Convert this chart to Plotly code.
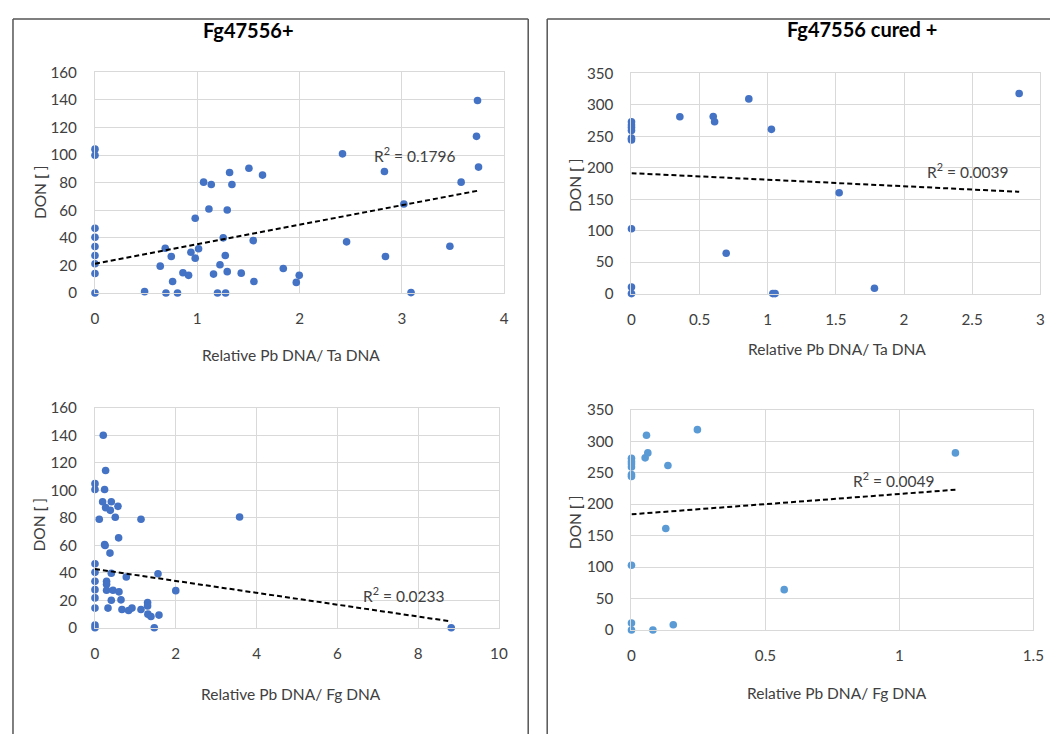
import numpy as np
import plotly.graph_objects as go

# ---------------- data ----------------
# Panel 1: Fg47556+  vs  Relative Pb DNA / Ta DNA
p1_x = [0, 0, 0, 0, 0, 0, 0, 0, 0,
        0.485, 0.687, 0.746, 0.638, 0.759, 0.694, 0.807, 0.860, 0.915, 0.938,
        0.980, 1.013, 0.980, 1.062, 1.137, 1.114, 1.159, 1.222, 1.198, 1.277,
        1.254, 1.274, 1.293, 1.293, 1.316, 1.339, 1.430, 1.505, 1.547, 1.554,
        1.638, 1.841, 1.997, 1.968,
        2.42, 2.46, 2.83, 2.84, 3.02, 3.09, 3.47, 3.58, 3.74, 3.73, 3.75]
p1_y = [104.3, 99.9, 46.9, 40.4, 33.7, 27.2, 21.2, 14.2, 0,
        1.0, 32.5, 26.5, 19.5, 8.4, 0, 0, 14.7, 12.8, 29.6,
        25.3, 32.1, 54.2, 80.4, 78.7, 60.9, 13.7, 20.5, 0, 0,
        40.0, 27.2, 15.5, 60.2, 87.4, 78.7, 14.4, 90.5, 38.0, 8.4,
        85.5, 17.8, 12.8, 7.7,
        100.9, 37.1, 88.1, 26.5, 64.5, 0.3, 33.9, 80.4, 139.6, 113.6, 91.3]

# Panel 2: Fg47556 cured +  vs  Relative Pb DNA / Ta DNA
p2_x = [0, 0, 0, 0, 0, 0, 0, 0, 0,
        0.355, 0.60, 0.61, 0.861, 1.027, 0.695, 1.037, 1.054, 1.524, 1.783, 2.845]
p2_y = [273, 268, 264, 259, 247, 244, 103, 10.5, 0,
        281, 281.5, 273, 309.4, 261, 64.2, 0, 0, 160.2, 8.4, 318]

# Panel 3: Fg47556+  vs  Relative Pb DNA / Fg DNA
p3_x = [0.205, 0.263, 0, 0, 0.238, 0.189, 0.404, 0.263, 0.379, 0.569,
        0.106, 0.502, 1.139, 3.58, 0.585, 0.238, 0.25, 0.371, 0, 0,
        0.404, 1.56, 0.775, 0, 0.287, 0.287, 0, 0.287, 0.445, 0.594,
        2.0, 0, 0.404, 0.644, 0, 0.322, 0.668, 0.832, 0.916, 1.139,
        1.302, 1.302, 1.31, 1.386, 1.584, 1.468, 0, 0, 8.82]
p3_y = [140, 114.4, 104.8, 100.6, 100.6, 91.7, 91.7, 87.4, 85.4, 88.3,
        78.9, 80.4, 78.9, 80.6, 65.4, 60.6, 59.8, 54.3, 46.6, 40.3,
        39.6, 39.3, 36.9, 33.8, 33.8, 31.6, 27.7, 27.3, 27.3, 26.1,
        27, 21.7, 20, 20.3, 14.3, 14.3, 13.3, 12.5, 14.3, 13.3,
        18.3, 15.9, 9.9, 8.2, 9.2, 0, 2, 0, 0]

# Panel 4: Fg47556 cured +  vs  Relative Pb DNA / Fg DNA
p4_x = [0, 0, 0, 0, 0, 0, 0, 0, 0,
        0.056, 0.246, 0.061, 0.051, 0.136, 0.128, 0.570, 0.080, 0.156, 1.209]
p4_y = [273, 268, 264, 259, 247, 244, 103, 11, 0,
        309.4, 318.4, 281.5, 273.6, 261.4, 161.3, 64.2, 0, 8.4, 281.5]

# Linear trendlines as shown in the reference (intercept, slope), per panel
trend_intercepts = [21.2, 191.4, 42.7, 183.9]
trend_slopes = [14.15, -10.4, -4.32, 32.3]
r2_labels = ["0.1796", "0.0039", "0.0233", "0.0049"]

panel_titles = ["Fg47556+", "Fg47556 cured +"]
x_titles = ["Relative Pb DNA/ Ta DNA", "Relative Pb DNA/ Ta DNA",
            "Relative Pb DNA/ Fg DNA", "Relative Pb DNA/ Fg DNA"]
y_title = "DON <b>[</b> ]"

# ---------------- layout helpers ----------------
W, H = 1057, 733
# mapping from target picture pixels to figure pixels (page offset + capture scale)
OX, SX, OY, SY = 11.7, 0.986, 15.4, 0.98


def fx(x):  # target pixel -> paper fraction
    return (x - OX) / SX / W


def fy(y):
    return 1 - (y - OY) / SY / H


FONT = "Lato"
TICK_COL = "#404040"
GRID = "#D9D9D9"
FS = 15.2

# target-pixel boxes of the plot areas: (left, right, top, bottom)
areas = [(94.7, 503.9, 70.0, 291.7),
         (631.3, 1040.2, 71.0, 292.3),
         (94.7, 498.7, 407.0, 628.0),
         (631.3, 1033.3, 409.0, 630.3)]
xranges = [[0, 4], [0, 3], [0, 10], [0, 1.5]]
yranges = [[0, 160], [0, 350], [0, 160], [0, 350]]
xdt = [1, 0.5, 2, 0.5]
ydt = [20, 50, 20, 50]
colors = ["#4472C4", "#4472C4", "#4472C4", "#5B9BD5"]
datasets = [(p1_x, p1_y), (p2_x, p2_y), (p3_x, p3_y), (p4_x, p4_y)]
r2_pos = [(3.13, 100.5), (2.467, 196), (7.65, 23.9), (0.98, 238.8)]

fig = go.Figure()
layout = dict(width=W, height=H, autosize=False,
              margin=dict(l=0, r=0, t=0, b=0, pad=0),
              paper_bgcolor="white", plot_bgcolor="white",
              showlegend=False, font=dict(family=FONT, color=TICK_COL))
annotations = []
shapes = []

for i, ((xs, ys), area) in enumerate(zip(datasets, areas)):
    n = "" if i == 0 else str(i + 1)
    xa, ya = "x" + n, "y" + n
    l, r, t, b = area
    layout["xaxis" + n] = dict(domain=[fx(l), fx(r)], range=xranges[i], dtick=xdt[i],
                               tick0=0, anchor=ya, showgrid=True, gridcolor=GRID, gridwidth=1,
                               zeroline=False, showline=True, linecolor=GRID, mirror=True,
                               ticks="", ticklabelstandoff=12,
                               tickfont=dict(family=FONT, size=FS, color=TICK_COL),
                               fixedrange=True)
    layout["yaxis" + n] = dict(domain=[fy(b), fy(t)], range=yranges[i], dtick=ydt[i],
                               tick0=0, anchor=xa, showgrid=True, gridcolor=GRID, gridwidth=1,
                               zeroline=False, showline=True, linecolor=GRID, mirror=True,
                               ticks="", ticklabelstandoff=14,
                               tickfont=dict(family=FONT, size=FS, color=TICK_COL),
                               fixedrange=True)
    fig.add_trace(go.Scatter(x=xs, y=ys, mode="markers", xaxis=xa, yaxis=ya,
                             marker=dict(size=7.6, color=colors[i], line=dict(width=0)),
                             cliponaxis=False))
    # linear trendline spanning the data range
    xa_arr = np.array(xs, float)
    tx = np.array([xa_arr.min(), xa_arr.max()])
    fig.add_trace(go.Scatter(x=tx, y=trend_intercepts[i] + trend_slopes[i] * tx,
                             mode="lines", xaxis=xa, yaxis=ya,
                             line=dict(color="black", width=2, dash="5px,3px"),
                             cliponaxis=False, hoverinfo="skip"))
    annotations.append(dict(x=r2_pos[i][0], y=r2_pos[i][1], xref=xa, yref=ya,
                            text="R<sup>2</sup> = " + r2_labels[i], showarrow=False,
                            font=dict(family=FONT, size=15.5, color="#404040"),
                            xanchor="center", yanchor="middle"))

# panel titles
for (cx, cy), txt in zip([(248.6, 27), (861.7, 26.7)], panel_titles):
    annotations.append(dict(x=fx(cx), y=fy(cy), xref="paper", yref="paper", text="<b>" + txt + "</b>",
                            showarrow=False, font=dict(family=FONT, size=20, color="black"),
                            xanchor="center", yanchor="middle"))
# x-axis titles
for (cx, cy), txt in zip([(290.5, 353.5), (836.7, 347.7), (290.5, 695.0), (836.7, 693.3)], x_titles):
    annotations.append(dict(x=fx(cx), y=fy(cy), xref="paper", yref="paper", text=txt,
                            showarrow=False, font=dict(family=FONT, size=15.5, color=TICK_COL),
                            xanchor="center", yanchor="middle"))
# y-axis titles
for (cx, cy) in [(39, 190), (575, 183), (39, 524), (575, 521.7)]:
    annotations.append(dict(x=fx(cx), y=fy(cy), xref="paper", yref="paper", text=y_title,
                            showarrow=False, textangle=-90,
                            font=dict(family=FONT, size=15.5, color=TICK_COL),
                            xanchor="center", yanchor="middle"))

# chart-area borders (two boxes running off the bottom of the picture)
BORDER = dict(color="#555555", width=1.5)
top = 1 - 1.0 / H
bottom = -0.02
for (l, r) in [(max(fx(7.5), 1.0 / W), fx(528.0)), (fx(547.0), min(fx(1055.5), 1 - 1.0 / W))]:
    for (x0, y0, x1, y1) in [(l, top, r, top), (l, top, l, bottom), (r, top, r, bottom)]:
        shapes.append(dict(type="line", xref="paper", yref="paper",
                           x0=x0, y0=y0, x1=x1, y1=y1, line=BORDER))

layout["annotations"] = annotations
layout["shapes"] = shapes
fig.update_layout(**layout)
fig.write_html("out.html")
